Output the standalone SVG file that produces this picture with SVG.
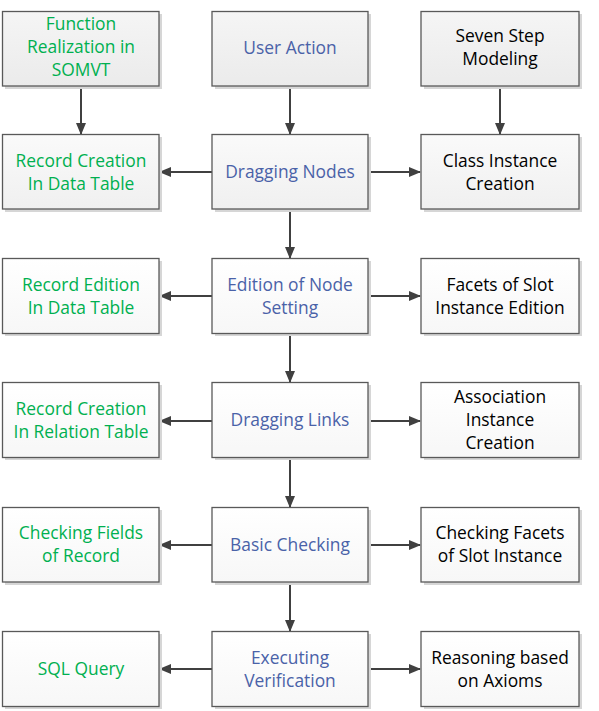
<svg xmlns="http://www.w3.org/2000/svg" width="599" height="711" viewBox="0 0 599 711">
<style>
.box{stroke:#595959;stroke-width:1.3}
.sh{fill:#d6d6d6}
.t{font-family:"Open Sans","Noto Sans",sans-serif;font-size:17.4px;text-anchor:middle}
.g{fill:#00b050}.b{fill:#4a62a8}.k{fill:#000}
.c{stroke:#404040;stroke-width:2;fill:none;marker-end:url(#ah)}
</style>
<defs>
<linearGradient id="gT" x1="0" y1="0" x2="0" y2="1"><stop offset="0" stop-color="#f5f5f5"/><stop offset="1" stop-color="#ebebeb"/></linearGradient>
<linearGradient id="gM" x1="0" y1="0" x2="0" y2="1"><stop offset="0" stop-color="#fafafa"/><stop offset="1" stop-color="#f0f0f0"/></linearGradient>
<linearGradient id="gW" x1="0" y1="0" x2="0" y2="1"><stop offset="0" stop-color="#ffffff"/><stop offset="1" stop-color="#f7f7f7"/></linearGradient>
<marker id="ah" markerWidth="12" markerHeight="10" refX="11" refY="5" orient="auto" markerUnits="userSpaceOnUse"><path d="M0,0 L12,5 L0,10 z" fill="#404040"/></marker>
</defs>
<rect width="599" height="711" fill="#fff"/>
<g id="connectors">
<path class="c" d="M81,86 V134"/>
<path class="c" d="M290,86 V134"/>
<path class="c" d="M500,86 V134"/>
<path class="c" d="M212,172 H160"/>
<path class="c" d="M368,172 H420"/>
<path class="c" d="M290,209 V258"/>
<path class="c" d="M212,296 H160"/>
<path class="c" d="M368,296 H420"/>
<path class="c" d="M290,334 V382"/>
<path class="c" d="M212,421 H160"/>
<path class="c" d="M368,421 H420"/>
<path class="c" d="M290,458 V507"/>
<path class="c" d="M212,545 H160"/>
<path class="c" d="M368,545 H420"/>
<path class="c" d="M290,582 V631"/>
<path class="c" d="M212,669 H160"/>
<path class="c" d="M368,669 H420"/>
</g>
<g id="n1"><rect class="sh" x="5" y="14" width="157" height="75"/><rect class="box" x="2.5" y="11.5" width="156.5" height="74.5" fill="url(#gT)"/>
<text class="t g" x="81" y="30">Function</text><text class="t g" x="81" y="53">Realization in</text><text class="t g" x="81" y="76">SOMVT</text></g>
<g id="n2"><rect class="sh" x="215" y="14" width="156" height="75"/><rect class="box" x="212" y="11.5" width="156" height="74.5" fill="url(#gT)"/>
<text class="t b" x="290" y="54">User Action</text></g>
<g id="n3"><rect class="sh" x="424" y="14" width="158" height="75"/><rect class="box" x="421" y="11.5" width="158" height="74.5" fill="url(#gT)"/>
<text class="t k" x="500" y="42">Seven Step</text><text class="t k" x="500" y="65">Modeling</text></g>

<g id="n4"><rect class="sh" x="5" y="137" width="157" height="75"/><rect class="box" x="2.5" y="134.5" width="156.5" height="74.5" fill="url(#gM)"/>
<text class="t g" x="81" y="167">Record Creation</text><text class="t g" x="81" y="190">In Data Table</text></g>
<g id="n5"><rect class="sh" x="215" y="137" width="156" height="75"/><rect class="box" x="212" y="134.5" width="156" height="74.5" fill="url(#gM)"/>
<text class="t b" x="290" y="178">Dragging Nodes</text></g>
<g id="n6"><rect class="sh" x="424" y="137" width="158" height="75"/><rect class="box" x="421" y="134.5" width="158" height="74.5" fill="url(#gM)"/>
<text class="t k" x="500" y="167">Class Instance</text><text class="t k" x="500" y="190">Creation</text></g>

<g id="n7"><rect class="sh" x="5" y="261" width="157" height="75"/><rect class="box" x="2.5" y="258.5" width="156.5" height="75" fill="url(#gW)"/>
<text class="t g" x="81" y="291">Record Edition</text><text class="t g" x="81" y="314">In Data Table</text></g>
<g id="n8"><rect class="sh" x="215" y="261" width="156" height="75"/><rect class="box" x="212" y="258.5" width="156" height="75" fill="url(#gW)"/>
<text class="t b" x="290" y="291">Edition of Node</text><text class="t b" x="290" y="314">Setting</text></g>
<g id="n9"><rect class="sh" x="424" y="261" width="158" height="75"/><rect class="box" x="421" y="258.5" width="158" height="75" fill="url(#gW)"/>
<text class="t k" x="500" y="291">Facets of Slot</text><text class="t k" x="500" y="314">Instance Edition</text></g>

<g id="n10"><rect class="sh" x="5" y="385" width="157" height="75"/><rect class="box" x="2.5" y="382.5" width="156.5" height="75" fill="url(#gW)"/>
<text class="t g" x="81" y="415">Record Creation</text><text class="t g" x="81" y="438">In Relation Table</text></g>
<g id="n11"><rect class="sh" x="215" y="385" width="156" height="75"/><rect class="box" x="212" y="382.5" width="156" height="75" fill="url(#gW)"/>
<text class="t b" x="290" y="426">Dragging Links</text></g>
<g id="n12"><rect class="sh" x="424" y="385" width="158" height="75"/><rect class="box" x="421" y="382.5" width="158" height="75" fill="url(#gW)"/>
<text class="t k" x="500" y="403">Association</text><text class="t k" x="500" y="426">Instance</text><text class="t k" x="500" y="449">Creation</text></g>

<g id="n13"><rect class="sh" x="5" y="510" width="157" height="75"/><rect class="box" x="2.5" y="507.5" width="156.5" height="74.5" fill="url(#gW)"/>
<text class="t g" x="81" y="539">Checking Fields</text><text class="t g" x="81" y="562">of Record</text></g>
<g id="n14"><rect class="sh" x="215" y="510" width="156" height="75"/><rect class="box" x="212" y="507.5" width="156" height="74.5" fill="url(#gW)"/>
<text class="t b" x="290" y="551">Basic Checking</text></g>
<g id="n15"><rect class="sh" x="424" y="510" width="158" height="75"/><rect class="box" x="421" y="507.5" width="158" height="74.5" fill="url(#gW)"/>
<text class="t k" x="500" y="539">Checking Facets</text><text class="t k" x="500" y="562">of Slot Instance</text></g>

<g id="n16"><rect class="sh" x="5" y="634" width="157" height="75"/><rect class="box" x="2.5" y="631.5" width="156.5" height="75" fill="url(#gW)"/>
<text class="t g" x="81" y="675">SQL Query</text></g>
<g id="n17"><rect class="sh" x="215" y="634" width="156" height="75"/><rect class="box" x="212" y="631.5" width="156" height="75" fill="url(#gW)"/>
<text class="t b" x="290" y="664">Executing</text><text class="t b" x="290" y="687">Verification</text></g>
<g id="n18"><rect class="sh" x="424" y="634" width="158" height="75"/><rect class="box" x="421" y="631.5" width="158" height="75" fill="url(#gW)"/>
<text class="t k" x="500" y="664">Reasoning based</text><text class="t k" x="500" y="687">on Axioms</text></g>
</svg>
